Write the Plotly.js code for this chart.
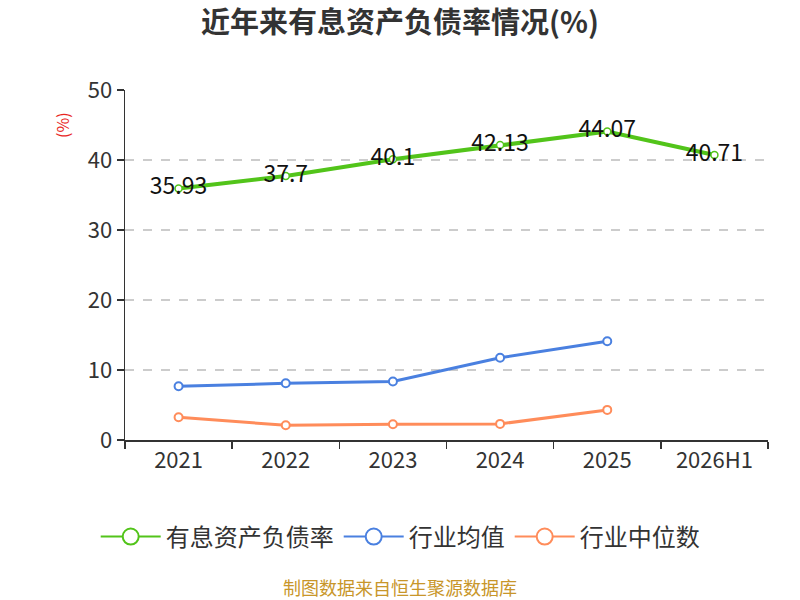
<!DOCTYPE html>
<html>
<head>
<meta charset="utf-8">
<script src="https://cdn.plot.ly/plotly-3.0.1.min.js"></script>
<style>
  html, body { margin: 0; padding: 0; background: #fff; }
  #chart { width: 800px; height: 600px; }
</style>
</head>
<body>
<div id="chart"></div>
<script>
const years = ['2021', '2022', '2023', '2024', '2025', '2026H1'];
const debtRatio = [35.93, 37.7, 40.1, 42.13, 44.07, 40.71];
const industryAvg = [7.67, 8.1, 8.35, 11.75, 14.1];
const industryMedian = [3.26, 2.1, 2.25, 2.3, 4.3];

const names = ['有息资产负债率', '行业均值', '行业中位数'];
const colors = ['#52c41a', '#4a80e0', '#ff8c5a'];
const font = '"Noto Sans CJK SC", "Noto Sans", sans-serif';

const main = {
  x: years,
  y: debtRatio,
  name: names[0],
  mode: 'lines+markers+text',
  text: debtRatio.map(String),
  textposition: 'middle center',
  textfont: {size: 23, color: '#111', family: font},
  line: {color: colors[0], width: 4},
  marker: {size: 7, color: '#fff', line: {color: colors[0], width: 1.5}},
  showlegend: false,
  hoverinfo: 'none'
};

const avg = {
  x: years.slice(0, industryAvg.length),
  y: industryAvg,
  name: names[1],
  mode: 'lines+markers',
  line: {color: colors[1], width: 3},
  marker: {size: 8, color: '#fff', line: {color: colors[1], width: 2}},
  showlegend: false,
  hoverinfo: 'none'
};

const median = {
  x: years.slice(0, industryMedian.length),
  y: industryMedian,
  name: names[2],
  mode: 'lines+markers',
  line: {color: colors[2], width: 3},
  marker: {size: 8, color: '#fff', line: {color: colors[2], width: 2}},
  showlegend: false,
  hoverinfo: 'none'
};

// legend-only entries with bigger symbols
const legendItems = names.map((n, i) => ({
  x: [null],
  y: [null],
  name: n,
  mode: 'lines+markers',
  line: {color: colors[i], width: 2},
  marker: {size: 16, color: '#fff', line: {color: colors[i], width: 2}},
  hoverinfo: 'none'
}));

const layout = {
  width: 800,
  height: 600,
  margin: {l: 125, r: 32, t: 90, b: 160},
  paper_bgcolor: '#fff',
  plot_bgcolor: '#fff',
  font: {family: font, color: '#333'},
  title: {
    text: '<b>近年来有息资产负债率情况(%)</b>',
    x: 0.5,
    xanchor: 'center',
    y: 0.962,
    yanchor: 'middle',
    font: {size: 29, color: '#333', family: font}
  },
  xaxis: {
    type: 'category',
    range: [-0.5, 5.5],
    tickson: 'boundaries',
    ticks: 'outside',
    ticklen: 7,
    tickcolor: '#333',
    tickwidth: 1.5,
    showline: true,
    linecolor: '#333',
    linewidth: 1.5,
    showgrid: false,
    tickfont: {size: 22, color: '#333'},
    fixedrange: true
  },
  yaxis: {
    range: [0, 50],
    dtick: 10,
    ticks: 'outside',
    ticklen: 7,
    tickcolor: '#333',
    tickwidth: 1.5,
    showline: true,
    linecolor: '#333',
    linewidth: 1.5,
    gridcolor: '#ccc',
    griddash: 'dash',
    gridwidth: 1.5,
    zeroline: false,
    tickfont: {size: 22, color: '#333'},
    fixedrange: true
  },
  legend: {
    orientation: 'h',
    x: 0.428,
    xanchor: 'center',
    y: -0.277,
    yanchor: 'middle',
    font: {size: 24, color: '#333'},
    itemwidth: 60
  },
  annotations: [
    {
      text: '(%)',
      xref: 'paper', yref: 'paper',
      x: -0.098, y: 0.9,
      xanchor: 'center', yanchor: 'middle',
      textangle: -90,
      showarrow: false,
      font: {size: 16, color: '#e8251e'}
    },
    {
      text: '制图数据来自恒生聚源数据库',
      xref: 'paper', yref: 'paper',
      x: 0.428, y: -0.42,
      xanchor: 'center', yanchor: 'middle',
      showarrow: false,
      font: {size: 18, color: '#c8962a'}
    }
  ]
};

Plotly.newPlot('chart', [main, avg, median, ...legendItems], layout, {staticPlot: true});
</script>
</body>
</html>
